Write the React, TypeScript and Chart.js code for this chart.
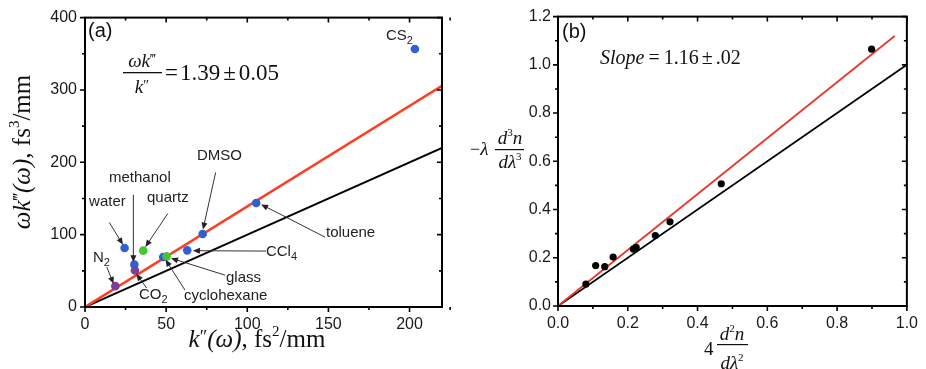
import React, { useEffect, useRef } from "react";
import { Chart, registerables } from "chart.js";
Chart.register(...registerables);

// ---------- Panel (a) data ----------
const materials = ["N2", "water", "methanol", "CO2", "quartz", "cyclohexane", "glass", "CCl4", "DMSO", "toluene", "CS2"];
const kPrime2 = [18.7, 24.4, 30.4, 30.8, 35.9, 48.2, 50.3, 63.0, 72.5, 105.5, 203.3];
const omegaK3 = [28.8, 81.5, 58.6, 50.4, 77.9, 69.1, 70.0, 78.3, 101.0, 143.8, 356.7];
const phase = ["gas", "liquid", "liquid", "gas", "solid", "liquid", "solid", "liquid", "liquid", "liquid", "liquid"];
const aXRange = [0, 220];
const aYRange = [0, 400];
const aXTicks = [50, 25];
const aYTicks = [100, 50];
const aFitSlope = 1.39;
const unitSlope = 1;

// ---------- Panel (b) data ----------
const d2nTerm = [0.080, 0.108, 0.134, 0.158, 0.216, 0.224, 0.279, 0.321, 0.468, 0.899];
const d3nTerm = [0.091, 0.168, 0.163, 0.203, 0.236, 0.243, 0.292, 0.349, 0.507, 1.065];
const bXRange = [0, 1];
const bYRange = [0, 1.2];
const bXTicks = [0.2, 0.1];
const bYTicks = [0.2, 0.1];
const bFitSlope = 1.16;
const bFitEnd = 0.965;

// annotations for panel (a), in data coordinates
const aNotes = [
  { name: "CS2", text: "CS", sub: "2", x: 185.5, y: 376 },
  { name: "DMSO", text: "DMSO", x: 69, y: 210, from: [80.5, 185.9], to: [72.7, 107] },
  { name: "methanol", text: "methanol", x: 14.8, y: 180, from: [29.8, 155.2], to: [29.8, 62] },
  { name: "water", text: "water", x: 2.5, y: 146, from: [15, 116.8], to: [23.4, 86] },
  { name: "quartz", text: "quartz", x: 38.2, y: 151.5, from: [51, 129.1], to: [37.2, 83] },
  { name: "N2", text: "N", sub: "2", x: 4.9, y: 69.1, from: [13.4, 55.4], to: [17.6, 32] },
  { name: "CO2", text: "CO", sub: "2", x: 33.3, y: 17.9, from: [38, 26.1], to: [31.6, 46] },
  { name: "toluene", text: "toluene", x: 148.5, y: 103.4, from: [147.9, 96.6], to: [108.5, 141.8] },
  { name: "CCl4", text: "CCl", sub: "4", x: 111.5, y: 77.3, from: [111.5, 77.3], to: [66.5, 77.8] },
  { name: "glass", text: "glass", x: 86.9, y: 41.6, from: [86.3, 44], to: [53, 67.5] },
  { name: "cyclohexane", text: "cyclohexane", x: 61, y: 16.5, from: [61.6, 23.4], to: [49.6, 65.5] },
];

const phaseColor: Record<string, string> = { liquid: "#2f5fd2", solid: "#49c43a", gas: "#7d3d9c" };

const SANS = '"Liberation Sans", Arial, sans-serif';
const SERIF = '"Liberation Serif", "Times New Roman", serif';

type Run = { t: string; f: string; dy?: number; gap?: number };

function runsWidth(ctx: CanvasRenderingContext2D, runs: Run[]) {
  let w = 0;
  for (const r of runs) {
    ctx.font = r.f;
    w += ctx.measureText(r.t).width + (r.gap || 0);
  }
  return w;
}

function drawRuns(ctx: CanvasRenderingContext2D, runs: Run[], x: number, y: number, align = "left") {
  const total = runsWidth(ctx, runs);
  let cx = align === "center" ? x - total / 2 : align === "right" ? x - total : x;
  ctx.textAlign = "left";
  ctx.textBaseline = "alphabetic";
  for (const r of runs) {
    ctx.font = r.f;
    ctx.fillText(r.t, cx, y + (r.dy || 0));
    cx += ctx.measureText(r.t).width + (r.gap || 0);
  }
  return total;
}

function frameTicksPlugin(xt: number[], yt: number[]) {
  return {
    id: "frameTicks",
    afterDatasetsDraw(chart: any) {
      const ctx = chart.ctx as CanvasRenderingContext2D;
      const { left, right, top, bottom } = chart.chartArea;
      const xs = chart.scales.x;
      const ys = chart.scales.y;
      ctx.save();
      ctx.strokeStyle = "#000";
      ctx.lineWidth = 1.6;
      const ticks = (scale: any, step: number, minor: number, cb: (p: number, major: boolean) => void) => {
        const n = Math.round((scale.max - scale.min) / minor);
        for (let i = 0; i <= n; i++) {
          const v = scale.min + i * minor;
          const major = Math.abs(v / step - Math.round(v / step)) < 1e-6;
          cb(scale.getPixelForValue(v), major);
        }
      };
      ctx.beginPath();
      ticks(xs, xt[0], xt[1], (p, major) => {
        const L = major ? 5 : 3;
        ctx.moveTo(p, bottom);
        ctx.lineTo(p, bottom + L);
        ctx.moveTo(p, top);
        ctx.lineTo(p, top + L);
      });
      ticks(ys, yt[0], yt[1], (p, major) => {
        const L = major ? 5 : 3;
        ctx.moveTo(left, p);
        ctx.lineTo(left - L, p);
        ctx.moveTo(right, p);
        ctx.lineTo(right - L, p);
      });
      ctx.stroke();
      ctx.lineWidth = 2;
      ctx.strokeRect(left, top, right - left, bottom - top);
      ctx.restore();
    },
  };
}

function arrow(ctx: CanvasRenderingContext2D, x1: number, y1: number, x2: number, y2: number) {
  const ang = Math.atan2(y2 - y1, x2 - x1);
  const hl = 7, hw = 3;
  ctx.beginPath();
  ctx.moveTo(x1, y1);
  ctx.lineTo(x2 - Math.cos(ang) * hl * 0.8, y2 - Math.sin(ang) * hl * 0.8);
  ctx.stroke();
  ctx.beginPath();
  ctx.moveTo(x2, y2);
  ctx.lineTo(x2 - Math.cos(ang) * hl - Math.sin(ang) * hw, y2 - Math.sin(ang) * hl + Math.cos(ang) * hw);
  ctx.lineTo(x2 - Math.cos(ang) * hl + Math.sin(ang) * hw, y2 - Math.sin(ang) * hl - Math.cos(ang) * hw);
  ctx.closePath();
  ctx.fill();
}

const panelAPlugin = {
  id: "panelA",
  afterDraw(chart: any) {
    const ctx = chart.ctx as CanvasRenderingContext2D;
    const xs = chart.scales.x;
    const ys = chart.scales.y;
    ctx.save();
    ctx.fillStyle = "#222";
    ctx.strokeStyle = "#333";
    ctx.lineWidth = 1;
    for (const n of aNotes) {
      const px = xs.getPixelForValue(n.x);
      const py = ys.getPixelForValue(n.y);
      const runs: Run[] = [{ t: n.text, f: `15px ${SANS}` }];
      if (n.sub) runs.push({ t: n.sub, f: `11px ${SANS}`, dy: 4 });
      drawRuns(ctx, runs, px, py + 5, "left");
      if (n.from && n.to) {
        arrow(ctx, xs.getPixelForValue(n.from[0]), ys.getPixelForValue(n.from[1]), xs.getPixelForValue(n.to[0]), ys.getPixelForValue(n.to[1]));
      }
    }
    ctx.fillStyle = "#111";
    // panel label
    drawRuns(ctx, [{ t: "(a)", f: `20px ${SANS}` }], 88, 37);
    // equation
    const cx = 142;
    drawRuns(ctx, [{ t: "ω", f: `italic 19px ${SERIF}` }, { t: "k", f: `italic 19px ${SERIF}` }, { t: "‴", f: `14px ${SERIF}`, dy: -3 }], cx, 67, "center");
    ctx.fillRect(123, 72, 39, 1.3);
    drawRuns(ctx, [{ t: "k", f: `italic 19px ${SERIF}` }, { t: "″", f: `14px ${SERIF}`, dy: -3 }], cx, 93, "center");
    drawRuns(ctx, [{ t: "=", f: `23px ${SERIF}`, gap: 2 }, { t: "1.39", f: `23px ${SERIF}`, gap: 3 }, { t: "±", f: `23px ${SERIF}`, gap: 3 }, { t: "0.05", f: `23px ${SERIF}` }], 165, 80, "left");
    // x title
    ctx.fillStyle = "#111";
    drawRuns(
      ctx,
      [
        { t: "k", f: `italic 25px ${SERIF}` },
        { t: "″", f: `18px ${SERIF}`, dy: -4 },
        { t: "(ω)", f: `italic 25px ${SERIF}` },
        { t: ", fs", f: `25px ${SERIF}` },
        { t: "2", f: `15px ${SERIF}`, dy: -11 },
        { t: "/mm", f: `25px ${SERIF}` },
      ],
      257,
      347,
      "center"
    );
    // y title
    ctx.translate(30, 152);
    ctx.rotate(-Math.PI / 2);
    drawRuns(
      ctx,
      [
        { t: "ωk", f: `italic 25px ${SERIF}` },
        { t: "‴", f: `18px ${SERIF}`, dy: -4 },
        { t: "(ω)", f: `italic 25px ${SERIF}` },
        { t: ", fs", f: `25px ${SERIF}` },
        { t: "3", f: `15px ${SERIF}`, dy: -11 },
        { t: "/mm", f: `25px ${SERIF}` },
      ],
      0,
      0,
      "center"
    );
    ctx.restore();
  },
};

const panelBPlugin = {
  id: "panelB",
  afterDraw(chart: any) {
    const ctx = chart.ctx as CanvasRenderingContext2D;
    const ox = 460; // canvas offset in page
    ctx.save();
    ctx.fillStyle = "#111";
    drawRuns(ctx, [{ t: "(b)", f: `20px ${SANS}` }], 562 - ox, 38);
    drawRuns(
      ctx,
      [
        { t: "Slope", f: `italic 20px ${SERIF}`, gap: 4 },
        { t: "=", f: `20px ${SERIF}`, gap: 4 },
        { t: "1.16", f: `20px ${SERIF}`, gap: 3 },
        { t: "±", f: `20px ${SERIF}`, gap: 3 },
        { t: ".02", f: `20px ${SERIF}` },
      ],
      600 - ox,
      64,
      "left"
    );
    // y title: -λ d3n / dλ3
    drawRuns(ctx, [{ t: "−", f: `18px ${SERIF}` }, { t: "λ", f: `italic 19px ${SERIF}` }], 470 - ox, 155);
    const ycx = 510 - ox;
    drawRuns(ctx, [{ t: "d", f: `italic 19px ${SERIF}` }, { t: "3", f: `11px ${SERIF}`, dy: -8 }, { t: "n", f: `italic 19px ${SERIF}` }], ycx, 144, "center");
    ctx.fillRect(495 - ox, 149, 29, 1.2);
    drawRuns(ctx, [{ t: "d", f: `italic 19px ${SERIF}` }, { t: "λ", f: `italic 19px ${SERIF}` }, { t: "3", f: `11px ${SERIF}`, dy: -8 }], ycx, 168, "center");
    // x title: 4 d2n / dλ2
    drawRuns(ctx, [{ t: "4", f: `19px ${SERIF}` }], 704 - ox, 355);
    const xcx = 732 - ox;
    drawRuns(ctx, [{ t: "d", f: `italic 19px ${SERIF}` }, { t: "2", f: `11px ${SERIF}`, dy: -8 }, { t: "n", f: `italic 19px ${SERIF}` }], xcx, 340, "center");
    ctx.fillRect(717 - ox, 344, 31, 1.2);
    drawRuns(ctx, [{ t: "d", f: `italic 19px ${SERIF}` }, { t: "λ", f: `italic 19px ${SERIF}` }, { t: "2", f: `11px ${SERIF}`, dy: -8 }], xcx, 369, "center");
    ctx.restore();
  },
};

function axis(range: number[], step: number, fit: (s: any) => void, fmt: (v: number) => string, pad: number) {
  return {
    type: "linear" as const,
    min: range[0],
    max: range[1],
    grid: { display: false, drawTicks: false },
    border: { display: false },
    ticks: {
      stepSize: step,
      includeBounds: false,
      padding: pad,
      color: "#1a1a1a",
      font: { family: SANS, size: 16 },
      callback: (v: any) => fmt(Number(v)),
    },
    afterFit: fit,
  };
}

export default function App() {
  const aRef = useRef<HTMLCanvasElement>(null);
  const bRef = useRef<HTMLCanvasElement>(null);

  useEffect(() => {
    const aPoints = kPrime2.map((x, i) => ({ x, y: omegaK3[i] }));
    const aColors = phase.map((p) => phaseColor[p]);
    const chartA = new Chart(aRef.current!, {
      type: "scatter",
      data: {
        datasets: [
          {
            label: "materials",
            data: aPoints,
            pointRadius: 4.3,
            pointBackgroundColor: aColors,
            pointBorderWidth: 0,
            order: 0,
          },
          {
            type: "line",
            label: "fit",
            data: aXRange.map((x) => ({ x, y: x * aFitSlope })),
            borderColor: "#ff3d22",
            borderWidth: 2.6,
            pointRadius: 0,
            order: 1,
          },
          {
            type: "line",
            label: "unit",
            data: aXRange.map((x) => ({ x, y: x * unitSlope })),
            borderColor: "#000",
            borderWidth: 2,
            pointRadius: 0,
            order: 2,
          },
        ],
      } as any,
      options: {
        animation: false,
        responsive: false,
        layout: { padding: { top: 16, right: 18, left: 0, bottom: 0 } },
        plugins: { legend: { display: false }, tooltip: { enabled: false } },
        scales: {
          x: axis(aXRange, aXTicks[0], (s: any) => { s.height = 62; }, (v) => String(Math.round(v)), 8),
          y: axis(aYRange, aYTicks[0], (s: any) => { s.width = 85; }, (v) => String(Math.round(v)), 8),
        },
      } as any,
      plugins: [frameTicksPlugin(aXTicks, aYTicks), panelAPlugin],
    });

    const bPoints = d2nTerm.map((x, i) => ({ x, y: d3nTerm[i] }));
    const chartB = new Chart(bRef.current!, {
      type: "scatter",
      data: {
        datasets: [
          {
            label: "data",
            data: bPoints,
            pointRadius: 3.6,
            pointBackgroundColor: "#000",
            pointBorderWidth: 0,
            order: 0,
          },
          {
            type: "line",
            label: "fit",
            data: [bXRange[0], bFitEnd].map((x) => ({ x, y: x * bFitSlope })),
            borderColor: "#e8382a",
            borderWidth: 1.8,
            pointRadius: 0,
            order: 1,
          },
          {
            type: "line",
            label: "unit",
            data: bXRange.map((x) => ({ x, y: x * unitSlope })),
            borderColor: "#000",
            borderWidth: 1.8,
            pointRadius: 0,
            order: 2,
          },
        ],
      } as any,
      options: {
        animation: false,
        responsive: false,
        layout: { padding: { top: 16, right: 13, left: 0, bottom: 0 } },
        plugins: { legend: { display: false }, tooltip: { enabled: false } },
        scales: {
          x: axis(bXRange, bXTicks[0], (s: any) => { s.height = 63; }, (v) => v.toFixed(1), 8),
          y: axis(bYRange, bYTicks[0], (s: any) => { s.width = 98; }, (v) => v.toFixed(1), 7),
        },
      } as any,
      plugins: [frameTicksPlugin(bXTicks, bYTicks), panelBPlugin],
    });

    return () => {
      chartA.destroy();
      chartB.destroy();
    };
  }, []);

  return (
    <div style={{ position: "absolute", left: 0, top: 0, width: 926, height: 369, background: "#fff", overflow: "hidden" }}>
      <div style={{ position: "absolute", left: 0, top: 0, width: 460, height: 369 }}>
        <canvas ref={aRef} width={460} height={369} style={{ display: "block" }} />
      </div>
      <div style={{ position: "absolute", left: 460, top: 0, width: 466, height: 369 }}>
        <canvas ref={bRef} width={466} height={369} style={{ display: "block" }} />
      </div>
    </div>
  );
}
